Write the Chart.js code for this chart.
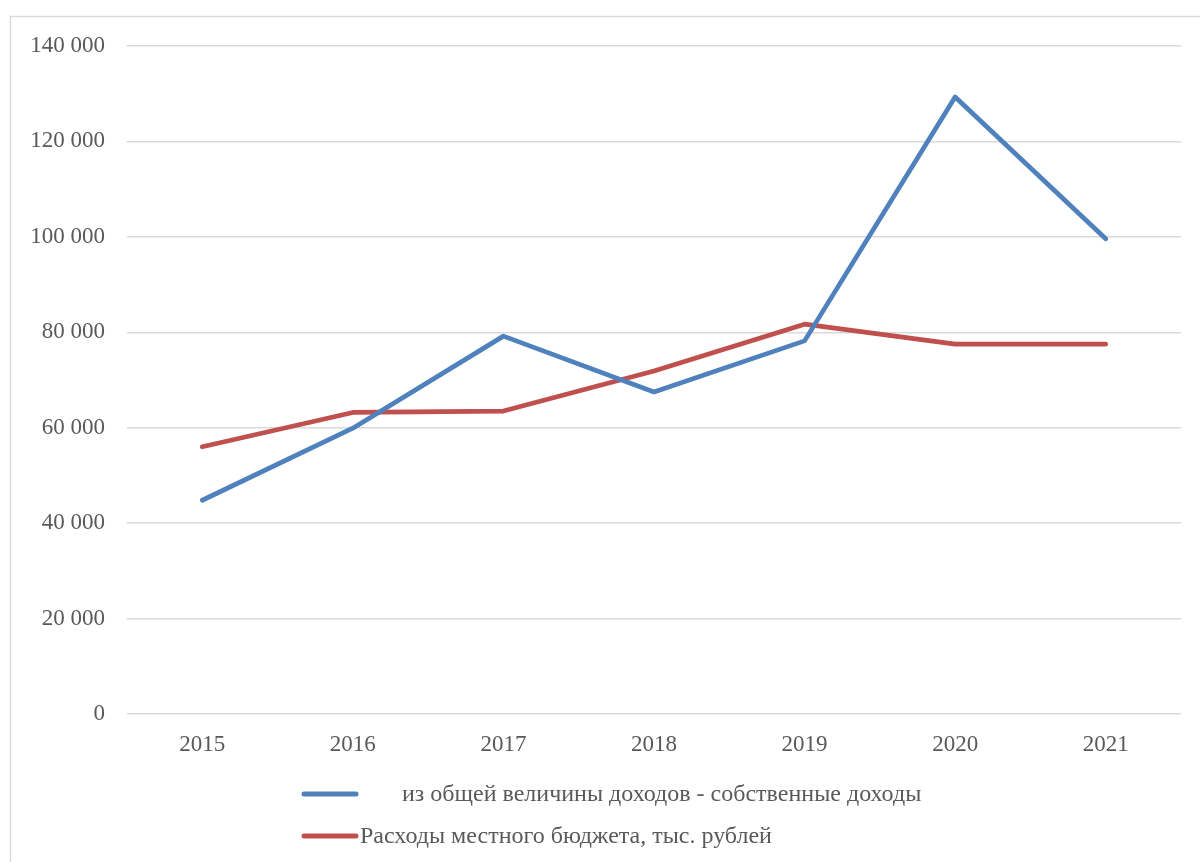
<!DOCTYPE html>
<html>
<head>
<meta charset="utf-8">
<script src="https://cdn.jsdelivr.net/npm/chart.js@4/dist/chart.umd.min.js"></script>
<style>
  html, body { margin: 0; padding: 0; background: #ffffff; }
  #wrap { width: 1200px; height: 862px; position: relative; }
</style>
</head>
<body>
<div id="wrap"><canvas id="c" width="1200" height="862"></canvas></div>
<script>
const categories = ['2015', '2016', '2017', '2018', '2019', '2020', '2021'];
const ownIncome = [44800, 59900, 79200, 67500, 78200, 129300, 99600];
const expenses = [56000, 63200, 63500, 71900, 81700, 77500, 77500];
const seriesNames = [
  '       из общей величины доходов - собственные доходы',
  'Расходы местного бюджета, тыс. рублей'
];
const yTicks = [0, 20000, 40000, 60000, 80000, 100000, 120000, 140000];

const FONT = '"Liberation Serif", "Times New Roman", serif';
const TEXT = '#595959';
const GRID = '#d9d9d9';

function fmt(v) {
  return String(v).replace(/\B(?=(\d{3})+(?!\d))/g, ' ');
}

const frame = {
  id: 'frame',
  beforeDraw(chart) {
    const ctx = chart.ctx;
    ctx.save();
    ctx.strokeStyle = GRID;
    ctx.lineWidth = 1.5;
    ctx.beginPath();
    ctx.moveTo(10.5, 900);
    ctx.lineTo(10.5, 16.5);
    ctx.lineTo(1210, 16.5);
    ctx.stroke();
    ctx.restore();
  }
};

const customLegend = {
  id: 'customLegend',
  afterDraw(chart) {
    const ctx = chart.ctx;
    const base = chart.chartArea.bottom;
    ctx.save();
    ctx.font = '24px ' + FONT;
    ctx.fillStyle = TEXT;
    ctx.textBaseline = 'middle';
    ctx.textAlign = 'left';
    chart.data.datasets.forEach((ds, i) => {
      const y = base + 80 + i * 42;
      ctx.strokeStyle = ds.borderColor;
      ctx.lineWidth = 5;
      ctx.lineCap = 'round';
      ctx.beginPath();
      ctx.moveTo(304, y);
      ctx.lineTo(356, y);
      ctx.stroke();
      ctx.fillText(ds.label, 360, y + 1);
    });
    ctx.restore();
  }
};

new Chart(document.getElementById('c'), {
  type: 'line',
  data: {
    labels: categories,
    datasets: [
      {
        label: seriesNames[0],
        data: ownIncome,
        borderColor: '#4f81bd',
        backgroundColor: '#4f81bd',
        borderWidth: 4.75,
        pointRadius: 0,
        tension: 0,
        borderCapStyle: 'round',
        borderJoinStyle: 'round'
      },
      {
        label: seriesNames[1],
        data: expenses,
        borderColor: '#c0504d',
        backgroundColor: '#c0504d',
        borderWidth: 4.75,
        pointRadius: 0,
        tension: 0,
        borderCapStyle: 'round',
        borderJoinStyle: 'round'
      }
    ]
  },
  options: {
    responsive: false,
    animation: false,
    devicePixelRatio: 1,
    layout: { padding: { left: 10, right: 19, top: 46, bottom: 98 } },
    plugins: {
      legend: { display: false },
      tooltip: { enabled: false }
    },
    scales: {
      x: {
        offset: true,
        grid: { display: false, drawTicks: false },
        border: { display: false },
        ticks: {
          color: TEXT,
          font: { family: FONT, size: 23 },
          padding: 17,
          maxRotation: 0
        },
        afterFit(scale) { scale.height = 50; }
      },
      y: {
        min: 0,
        max: 140000,
        afterBuildTicks(scale) { scale.ticks = yTicks.map(v => ({ value: v })); },
        grid: { color: GRID, lineWidth: 1.5, drawTicks: false },
        border: { display: false },
        ticks: {
          color: TEXT,
          font: { family: FONT, size: 23 },
          padding: 22,
          callback: (v) => fmt(v)
        },
        afterFit(scale) { scale.width = 117; }
      }
    }
  },
  plugins: [frame, customLegend]
});
</script>
</body>
</html>
